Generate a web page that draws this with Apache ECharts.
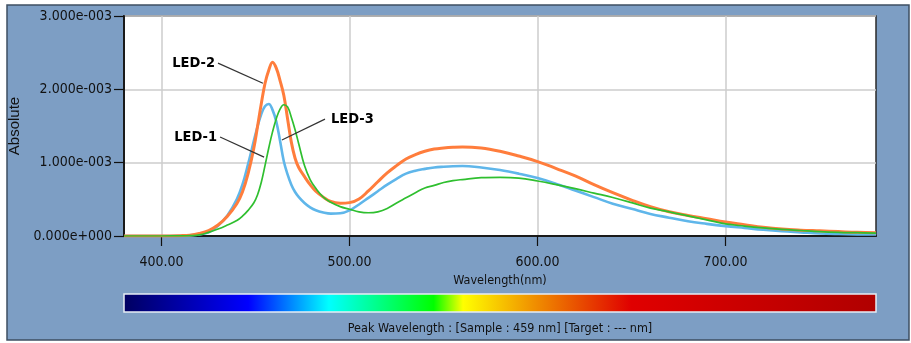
<!DOCTYPE html>
<html>
<head>
<meta charset="utf-8">
<script src="https://cdn.jsdelivr.net/npm/echarts@6/dist/echarts.min.js"></script>
<style>html,body{margin:0;padding:0;background:#fff;}#c{width:911px;height:343px;}</style>
</head>
<body>
<div id="c"></div>
<script>
// Wavelength grid (nm)
var wavelengths = [380,390,400,410,415,420,425,430,435,440,443,446,449,451,453,455,457,459,461,463,465,467,469,471,473,476,479,482,486,490,495,500,505,510,515,520,525,530,535,540,545,550,555,560,570,580,590,600,610,620,630,640,650,660,670,680,690,700,710,720,730,740,750,760,770,780];
// Absolute values in units of 1e-3
var led1 = [0,0,0,0.003,0.008,0.022,0.05,0.14,0.28,0.50,0.70,0.98,1.29,1.49,1.66,1.77,1.80,1.72,1.56,1.30,1.02,0.84,0.70,0.60,0.53,0.45,0.39,0.35,0.32,0.305,0.31,0.35,0.43,0.52,0.61,0.70,0.78,0.85,0.89,0.915,0.935,0.945,0.952,0.955,0.935,0.90,0.85,0.79,0.71,0.62,0.53,0.44,0.37,0.30,0.25,0.20,0.165,0.135,0.11,0.085,0.065,0.05,0.035,0.027,0.022,0.02];
var led2 = [0,0,0,0.005,0.012,0.035,0.075,0.15,0.27,0.44,0.60,0.85,1.19,1.49,1.80,2.08,2.26,2.37,2.29,2.12,1.92,1.60,1.28,1.06,0.93,0.81,0.70,0.61,0.53,0.47,0.448,0.455,0.505,0.615,0.74,0.86,0.96,1.05,1.11,1.155,1.185,1.20,1.21,1.215,1.20,1.155,1.09,1.015,0.92,0.82,0.70,0.59,0.49,0.40,0.33,0.28,0.235,0.19,0.155,0.12,0.095,0.08,0.07,0.06,0.05,0.045];
var led3 = [0,0,0,0.002,0.005,0.015,0.05,0.095,0.15,0.21,0.27,0.35,0.45,0.56,0.73,0.96,1.20,1.42,1.60,1.73,1.79,1.76,1.62,1.45,1.25,0.96,0.77,0.65,0.53,0.46,0.40,0.365,0.33,0.317,0.33,0.375,0.45,0.52,0.59,0.655,0.69,0.73,0.755,0.77,0.795,0.80,0.79,0.75,0.70,0.645,0.585,0.525,0.455,0.38,0.33,0.275,0.22,0.165,0.135,0.11,0.09,0.075,0.06,0.05,0.045,0.04];
var seriesNames = ['LED-1','LED-2','LED-3'];
var xTicks = [400,500,600,700];
// Annotation leader lines: [start(x, y in e-3), end(x, y in e-3)]
var leaderLines = [
  [[431.1,1.349],[454.5,1.076]],
  [[430.0,2.357],[453.9,2.084]],
  [[486.9,1.594],[464.0,1.308]]
];
var labelSides = ['left','left','right'];

function sci(v){
  if (Math.abs(v) < 1e-12) return '0.000e+000';
  var e = Math.floor(Math.log10(Math.abs(v)) + 1e-9);
  var m = v/Math.pow(10,e);
  return m.toFixed(3)+'e'+(e<0?'-':'+')+String(Math.abs(e)).padStart(3,'0');
}
function pairs(vals){ return wavelengths.map(function(w,i){ return [w, vals[i]*1e-3]; }); }

var COND = "'DejaVu Sans Condensed','Liberation Sans',sans-serif";
var colors = ['#5fb6ea','#ff7d3c','#2fbf2f'];
var widths = [2.6,3,1.7];
var allVals = [led1, led2, led3];

var series = [0,1,2].map(function(k){
  var ll = leaderLines[k];
  return {
    name: seriesNames[k], type:'line', showSymbol:false, smooth:0.4,
    data: pairs(allVals[k]), z: k===0?2:(k===1?3:4),
    lineStyle:{color:colors[k], width:widths[k]}, itemStyle:{color:colors[k]},
    markLine:{ silent:true, symbol:['none','none'], animation:false,
      lineStyle:{color:'#333', width:1.2, type:'solid'}, label:{show:false},
      data:[[{coord:[ll[0][0], ll[0][1]*1e-3]},{coord:[ll[1][0], ll[1][1]*1e-3]}]] },
    markPoint:{ silent:true, symbol:'circle', symbolSize:0, animation:false,
      data:[{coord:[ll[0][0], ll[0][1]*1e-3], value:seriesNames[k],
        label:{show:true, position:labelSides[k], distance:labelSides[k]==='left'?3:6,
          formatter:seriesNames[k], color:'#000', fontWeight:'bold', fontSize:14.5, fontFamily:COND}}] }
  };
});
var chart = echarts.init(document.getElementById('c'), null, {renderer:'canvas'});
chart.setOption({
  animation:false,
  backgroundColor:'#ffffff',
  graphic:[
    {type:'rect', z:-10, shape:{x:7,y:5,width:902,height:335}, style:{fill:'#7d9ec4', stroke:'#3e4f62', lineWidth:1.5}},
    {type:'rect', z:5, shape:{x:124,y:294,width:752,height:18}, style:{
      stroke:'#e6edf5', lineWidth:1.5,
      fill:new echarts.graphic.LinearGradient(0,0,1,0,[
        {offset:0,color:'#000060'},{offset:0.166,color:'#0000ff'},{offset:0.273,color:'#00ffff'},
        {offset:0.412,color:'#00ff00'},{offset:0.451,color:'#ffff00'},{offset:0.545,color:'#f09000'},
        {offset:0.674,color:'#e00000'},{offset:1,color:'#b00000'}])}},
    {type:'text', z:5, style:{x:500, y:329, text:'Peak Wavelength : [Sample : 459 nm] [Target : --- nm]',
      fill:'#111', font:"12.5px 'DejaVu Sans Condensed','Liberation Sans',sans-serif", align:'center', verticalAlign:'middle'}}
  ],
  grid:{left:124, top:16, right:35, bottom:107, show:true, backgroundColor:'#ffffff', borderColor:'#2a2a2a', borderWidth:1.5, containLabel:false, outerBoundsMode:'none'},
  xAxis:{type:'value', min:380, max:780,
    name:'Wavelength(nm)', nameLocation:'middle', nameGap:36,
    nameTextStyle:{color:'#111', fontSize:12.5, fontFamily:COND},
    axisLine:{show:true, onZero:false, lineStyle:{color:'#1a1a1a', width:2}},
    axisTick:{show:true, length:10, customValues:xTicks, lineStyle:{color:'#111', width:1.2}},
    axisLabel:{customValues:xTicks, margin:19, color:'#111', fontSize:14, fontFamily:COND, formatter:function(v){return v.toFixed(2);}},
    splitLine:{show:true, lineStyle:{color:'#cccccc', width:1.5}}
  },
  yAxis:{type:'value', min:0, max:0.003, interval:0.001,
    name:'Absolute', nameLocation:'middle', nameGap:102,
    nameTextStyle:{color:'#111', fontSize:15, fontFamily:'Liberation Sans, sans-serif'},
    axisLine:{show:true, lineStyle:{color:'#1a1a1a', width:2}},
    axisTick:{show:true, length:10, lineStyle:{color:'#111', width:1.2}},
    axisLabel:{margin:12, color:'#111', fontSize:14, fontFamily:COND, formatter:sci},
    splitLine:{show:true, lineStyle:{color:'#cccccc', width:1.5}}
  },
  series:series
});
</script>
</body>
</html>
